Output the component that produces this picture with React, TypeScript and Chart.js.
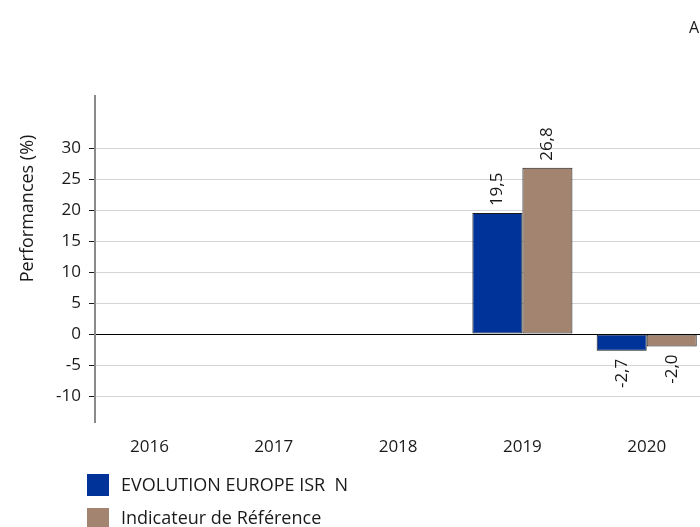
import React, { useEffect, useRef } from "react";
import { Chart, registerables } from "chart.js";

Chart.register(...registerables);

// ---- data ----
const categories = [2016, 2017, 2018, 2019, 2020];
const fundValues: (number | null)[] = [null, null, null, 19.5, -2.7];
const benchmarkValues: (number | null)[] = [null, null, null, 26.8, -2.0];
const yTickValues = [-10, -5, 0, 5, 10, 15, 20, 25, 30];
const seriesNames = ["EVOLUTION EUROPE ISR  N", "Indicateur de Référence"];
const seriesColors = ["#003399", "#A28470"];
const yAxisTitle = "Performances (%)";
const cornerText = "A";

const FONT = '"Open Sans", sans-serif';
const TEXT = "#1a1a1a";

const fmt = (v: number) => v.toFixed(1).replace(".", ",");

const valueLabels = {
  id: "valueLabels",
  afterDatasetsDraw(chart: any) {
    const ctx = chart.ctx;
    ctx.save();
    ctx.font = `17px ${FONT}`;
    ctx.fillStyle = TEXT;
    ctx.textBaseline = "middle";
    chart.data.datasets.forEach((ds: any, di: number) => {
      const meta = chart.getDatasetMeta(di);
      meta.data.forEach((el: any, i: number) => {
        const raw = ds.data[i];
        const v = raw && raw.y;
        if (v === null || v === undefined) return;
        ctx.save();
        if (v >= 0) {
          ctx.translate(el.x, el.y - 7);
          ctx.rotate(-Math.PI / 2);
          ctx.textAlign = "left";
        } else {
          ctx.translate(el.x, el.y + 8);
          ctx.rotate(-Math.PI / 2);
          ctx.textAlign = "right";
        }
        ctx.fillText(fmt(v), 0, 0);
        ctx.restore();
      });
    });
    ctx.restore();
  },
};

const yTitlePlugin = {
  id: "yTitle",
  afterDraw(chart: any) {
    const ctx = chart.ctx;
    ctx.save();
    ctx.font = `18px ${FONT}`;
    ctx.fillStyle = TEXT;
    ctx.textAlign = "center";
    ctx.textBaseline = "middle";
    ctx.translate(28, 208.5);
    ctx.rotate(-Math.PI / 2);
    ctx.fillText(yAxisTitle, 0, 0);
    ctx.restore();
  },
};

export default function App() {
  const ref = useRef<HTMLCanvasElement>(null);

  useEffect(() => {
    if (!ref.current) return;
    const chart = new Chart(ref.current, {
      type: "bar",
      data: {
        datasets: [fundValues, benchmarkValues].map((vals, si) => ({
          label: seriesNames[si],
          data: categories.map((c, i) => ({ x: c, y: vals[i] })),
          backgroundColor: seriesColors[si],
          borderColor: "#1a1a1a",
          borderWidth: 1,
          borderSkipped: false,
          categoryPercentage: 0.805,
          barPercentage: 1,
        })) as any,
      },
      plugins: [valueLabels, yTitlePlugin],
      options: {
        animation: false,
        responsive: false,
        devicePixelRatio: 1,
        layout: { padding: { top: 96, right: 20, left: 0, bottom: 0 } },
        plugins: {
          legend: { display: false },
          tooltip: { enabled: false },
          title: { display: false },
        },
        scales: {
          x: {
            type: "linear",
            offset: false,
            min: 2015.5615,
            max: 2021.0724,
            grid: { display: false, drawTicks: false, offset: false },
            border: { display: false },
            afterBuildTicks: (s: any) => {
              s.ticks = categories.map((c) => ({ value: c }));
            },
            afterFit: (s: any) => {
              s.height = 105;
            },
            ticks: {
              autoSkip: false,
              maxRotation: 0,
              padding: 15,
              color: TEXT,
              font: { family: FONT, size: 17 },
              callback: (v: any) => String(v),
            },
          },
          y: {
            type: "linear",
            min: -14.19,
            max: 38.387,
            afterBuildTicks: (s: any) => {
              s.ticks = yTickValues.map((v) => ({ value: v }));
            },
            afterFit: (s: any) => {
              s.width = 95;
            },
            grid: {
              color: (c: any) => (c.tick && c.tick.value === 0 ? "#000000" : "#d4d4d4"),
              lineWidth: 1,
              drawTicks: true,
              tickLength: 6,
              tickColor: "#1a1a1a",
            },
            border: { display: true, color: "#8a8a8a", width: 2 },
            ticks: {
              padding: 8,
              color: TEXT,
              font: { family: FONT, size: 17 },
              callback: (v: any) => String(v),
            },
          },
        },
      } as any,
    });
    return () => chart.destroy();
  }, []);

  return (
    <div
      style={{
        position: "absolute",
        left: 0,
        top: 0,
        width: 700,
        height: 527,
        overflow: "hidden",
        background: "#ffffff",
        fontFamily: FONT,
      }}
    >
      <canvas
        ref={ref}
        width={800}
        height={527}
        style={{ position: "absolute", left: 0, top: 0, width: 800, height: 527, display: "block" }}
      />
      <div
        style={{
          position: "absolute",
          left: 689,
          top: 16,
          fontSize: 16,
          lineHeight: "22px",
          color: TEXT,
          whiteSpace: "pre",
        }}
      >
        {cornerText}
      </div>
      {seriesNames.map((name, i) => (
        <div key={name}>
          <div
            style={{
              position: "absolute",
              left: 87,
              top: 474 + i * 34,
              width: 22,
              height: 22,
              background: seriesColors[i],
            }}
          />
          <div
            style={{
              position: "absolute",
              left: 121,
              top: 473 + i * 33,
              fontSize: 18,
              lineHeight: "22px",
              color: TEXT,
              whiteSpace: "pre",
            }}
          >
            {name}
          </div>
        </div>
      ))}
    </div>
  );
}
